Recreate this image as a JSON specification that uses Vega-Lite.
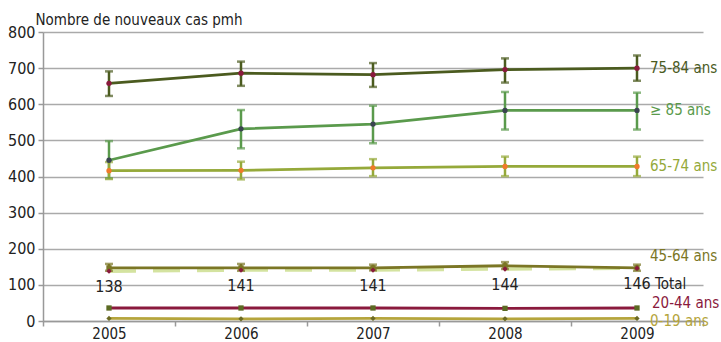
{
  "$schema": "https://vega.github.io/schema/vega-lite/v6.json",
  "width": 660,
  "height": 289,
  "autosize": {"type": "none"},
  "padding": {"left": 43, "top": 32, "right": 18, "bottom": 21},
  "background": "white",
  "config": {
    "font": "DejaVu Sans Condensed, Liberation Sans, sans-serif",
    "view": {"stroke": null},
    "text": {"font": "DejaVu Sans Condensed, Liberation Sans, sans-serif"},
    "axis": {"labelFont": "DejaVu Sans Condensed, Liberation Sans, sans-serif", "titleFont": "DejaVu Sans Condensed, Liberation Sans, sans-serif"},
    "axisY": {"labelOverlap": false}
  },
  "datasets": {
    "main": [
      {"year": "2005", "series": "75-84 ans", "value": 658, "lo": 623, "hi": 691},
      {"year": "2006", "series": "75-84 ans", "value": 686, "lo": 651, "hi": 718},
      {"year": "2007", "series": "75-84 ans", "value": 682, "lo": 648, "hi": 714},
      {"year": "2008", "series": "75-84 ans", "value": 696, "lo": 660, "hi": 727},
      {"year": "2009", "series": "75-84 ans", "value": 700, "lo": 665, "hi": 735},
      {"year": "2005", "series": "≥ 85 ans", "value": 445, "lo": 395, "hi": 498},
      {"year": "2006", "series": "≥ 85 ans", "value": 532, "lo": 478, "hi": 584},
      {"year": "2007", "series": "≥ 85 ans", "value": 545, "lo": 492, "hi": 596},
      {"year": "2008", "series": "≥ 85 ans", "value": 583, "lo": 530, "hi": 634},
      {"year": "2009", "series": "≥ 85 ans", "value": 583, "lo": 530, "hi": 632},
      {"year": "2005", "series": "65-74 ans", "value": 416, "lo": 393, "hi": 440},
      {"year": "2006", "series": "65-74 ans", "value": 417, "lo": 392, "hi": 441},
      {"year": "2007", "series": "65-74 ans", "value": 424, "lo": 401, "hi": 448},
      {"year": "2008", "series": "65-74 ans", "value": 428, "lo": 401, "hi": 455},
      {"year": "2009", "series": "65-74 ans", "value": 428, "lo": 401, "hi": 455},
      {"year": "2005", "series": "45-64 ans", "value": 147, "lo": 139, "hi": 158},
      {"year": "2006", "series": "45-64 ans", "value": 147, "lo": 139, "hi": 158},
      {"year": "2007", "series": "45-64 ans", "value": 147, "lo": 140, "hi": 156},
      {"year": "2008", "series": "45-64 ans", "value": 153, "lo": 144, "hi": 163},
      {"year": "2009", "series": "45-64 ans", "value": 147, "lo": 139, "hi": 156},
      {"year": "2005", "series": "20-44 ans", "value": 36},
      {"year": "2006", "series": "20-44 ans", "value": 36},
      {"year": "2007", "series": "20-44 ans", "value": 36},
      {"year": "2008", "series": "20-44 ans", "value": 35},
      {"year": "2009", "series": "20-44 ans", "value": 36},
      {"year": "2005", "series": "0-19 ans", "value": 7},
      {"year": "2006", "series": "0-19 ans", "value": 6},
      {"year": "2007", "series": "0-19 ans", "value": 7},
      {"year": "2008", "series": "0-19 ans", "value": 6},
      {"year": "2009", "series": "0-19 ans", "value": 7}
    ],
    "total": [
      {"year": "2005", "value": 138},
      {"year": "2006", "value": 141},
      {"year": "2007", "value": 141},
      {"year": "2008", "value": 144},
      {"year": "2009", "value": 146}
    ]
  },
  "encoding": {
    "x": {
      "field": "year", "type": "ordinal",
      "scale": {"paddingInner": 0, "paddingOuter": 0},
      "axis": {
        "title": null, "labelAngle": 0, "labelFontSize": 15, "labelColor": "#222",
        "domainColor": "#999", "domainWidth": 1.5, "tickColor": "#999", "tickWidth": 1.5,
        "tickSize": 5, "tickBand": "extent", "labelPadding": 0, "grid": false
      }
    },
    "y": {
      "field": "value", "type": "quantitative",
      "scale": {"domain": [0, 800], "nice": false},
      "axis": {
        "values": [0, 100, 200, 300, 400, 500, 600, 700, 800],
        "labelOverlap": false,
        "title": "Nombre de nouveaux cas pmh", "titleAngle": 0, "titleAlign": "left",
        "titleBaseline": "bottom", "titleX": -8, "titleY": -5, "titleFontSize": 15,
        "titleFontWeight": "normal", "titleColor": "#222",
        "labelFontSize": 16, "labelColor": "#222", "labelPadding": 3,
        "gridColor": "#aaa", "gridWidth": 1.5, "domainColor": "#999", "domainWidth": 1.5,
        "tickColor": "#999", "tickSize": 5, "tickWidth": 1.5
      }
    }
  },
  "layer": [
    {
      "data": {"name": "total"},
      "mark": {"type": "line", "color": "#d4e3a0", "strokeWidth": 3.5, "strokeDash": [27, 17]}
    },
    {
      "data": {"name": "main"},
      "transform": [{"filter": "isValid(datum.lo)"}],
      "mark": {"type": "rule", "strokeWidth": 2.5},
      "encoding": {
        "y": {"field": "lo", "type": "quantitative"},
        "y2": {"field": "hi"},
        "color": {"field": "series", "type": "nominal", "legend": null}
      }
    },
    {
      "data": {"name": "main"},
      "transform": [{"filter": "isValid(datum.lo)"}],
      "mark": {"type": "tick", "size": 8, "thickness": 2.5},
      "encoding": {
        "y": {"field": "lo", "type": "quantitative"},
        "color": {"field": "series", "type": "nominal", "legend": null}
      }
    },
    {
      "data": {"name": "main"},
      "transform": [{"filter": "isValid(datum.hi)"}],
      "mark": {"type": "tick", "size": 8, "thickness": 2.5},
      "encoding": {
        "y": {"field": "hi", "type": "quantitative"},
        "color": {"field": "series", "type": "nominal", "legend": null}
      }
    },
    {
      "data": {"name": "main"},
      "mark": {"type": "line", "strokeWidth": 2.8},
      "encoding": {
        "color": {
          "field": "series", "type": "nominal", "legend": null,
          "scale": {
            "domain": ["75-84 ans", "≥ 85 ans", "65-74 ans", "45-64 ans", "20-44 ans", "0-19 ans"],
            "range": ["#4b5b1f", "#5a9a4c", "#95a93a", "#7b7625", "#8a1a3d", "#b5a53c"]
          }
        }
      }
    },
    {
      "data": {"name": "main"},
      "mark": {"type": "point", "filled": true, "size": 28, "opacity": 1},
      "encoding": {
        "fill": {
          "field": "series", "type": "nominal", "legend": null,
          "scale": {
            "domain": ["75-84 ans", "≥ 85 ans", "65-74 ans", "45-64 ans", "20-44 ans", "0-19 ans"],
            "range": ["#8a1a3d", "#3a4450", "#f07a2a", "#7b7625", "#5b6a22", "#6b6a24"]
          }
        },
        "shape": {
          "field": "series", "type": "nominal", "legend": null,
          "scale": {
            "domain": ["75-84 ans", "≥ 85 ans", "65-74 ans", "45-64 ans", "20-44 ans", "0-19 ans"],
            "range": ["circle", "circle", "circle", "square", "square", "diamond"]
          }
        }
      }
    },
    {
      "data": {"name": "total"},
      "mark": {"type": "point", "filled": true, "size": 28, "shape": "diamond", "color": "#8a1a3d", "opacity": 1}
    },
    {
      "data": {"name": "total"},
      "mark": {"type": "text", "fontSize": 16, "color": "#222", "dy": 16, "align": "center", "baseline": "middle"},
      "encoding": {
        "text": {"field": "value", "type": "quantitative"}
      }
    },
    {
      "data": {"name": "total"},
      "transform": [{"filter": "datum.year == '2009'"}],
      "mark": {"type": "text", "fontSize": 15, "color": "#222", "dy": 16, "dx": 18, "align": "left", "baseline": "middle", "text": "Total"}
    },
    {
      "data": {"name": "main"},
      "transform": [{"filter": "datum.year == '2009' && (datum.series == '75-84 ans' || datum.series == '≥ 85 ans' || datum.series == '65-74 ans')"}],
      "mark": {"type": "text", "fontSize": 15, "dx": 13, "align": "left", "baseline": "middle"},
      "encoding": {
        "text": {"field": "series"},
        "color": {"field": "series", "type": "nominal", "legend": null}
      }
    },
    {
      "data": {"name": "main"},
      "transform": [{"filter": "datum.year == '2009' && datum.series == '45-64 ans'"}],
      "mark": {"type": "text", "fontSize": 15, "dx": 13, "dy": -12, "align": "left", "baseline": "middle"},
      "encoding": {
        "text": {"field": "series"},
        "color": {"field": "series", "type": "nominal", "legend": null}
      }
    },
    {
      "data": {"name": "main"},
      "transform": [{"filter": "datum.year == '2009' && datum.series == '20-44 ans'"}],
      "mark": {"type": "text", "fontSize": 15, "dx": 15, "dy": -5, "align": "left", "baseline": "middle"},
      "encoding": {
        "text": {"field": "series"},
        "color": {"field": "series", "type": "nominal", "legend": null}
      }
    },
    {
      "data": {"name": "main"},
      "transform": [{"filter": "datum.year == '2009' && datum.series == '0-19 ans'"}],
      "mark": {"type": "text", "fontSize": 15, "dx": 13, "dy": 3, "align": "left", "baseline": "middle"},
      "encoding": {
        "text": {"field": "series"},
        "color": {"field": "series", "type": "nominal", "legend": null}
      }
    }
  ]
}
